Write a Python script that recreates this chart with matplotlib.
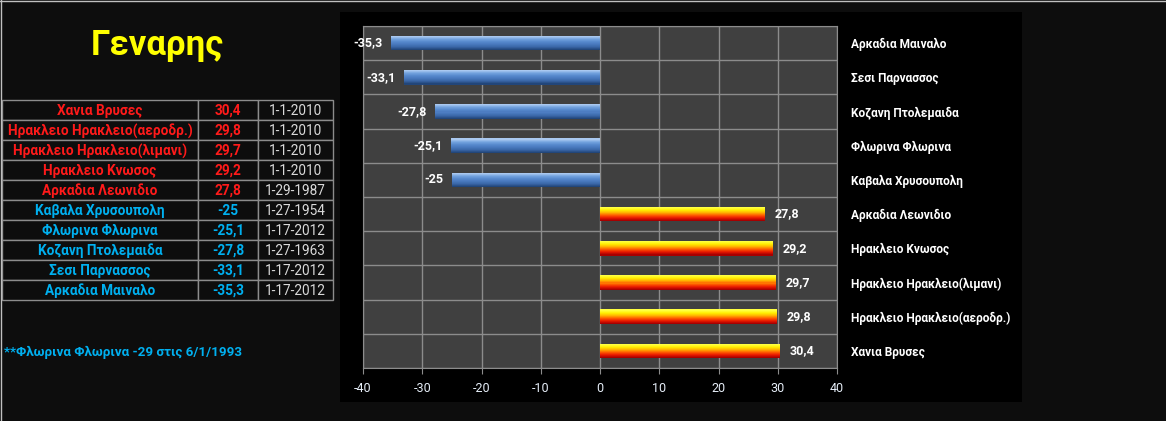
import matplotlib.pyplot as plt
import numpy as np
from matplotlib.colors import LinearSegmentedColormap
from matplotlib.patches import Rectangle
from matplotlib.lines import Line2D

plt.rcParams['font.family'] = ['Roboto', 'DejaVu Sans']

# data, bottom bar first (same order as the table rows, top to bottom)
stations = ["Χανια Βρυσες", "Ηρακλειο Ηρακλειο(αεροδρ.)", "Ηρακλειο Ηρακλειο(λιμανι)",
            "Ηρακλειο Κνωσος", "Αρκαδια Λεωνιδιο", "Καβαλα Χρυσουπολη",
            "Φλωρινα Φλωρινα", "Κοζανη Πτολεμαιδα", "Σεσι Παρνασσος", "Αρκαδια Μαιναλο"]
temps = [30.4, 29.8, 29.7, 29.2, 27.8, -25, -25.1, -27.8, -33.1, -35.3]
dates = ["1-1-2010", "1-1-2010", "1-1-2010", "1-1-2010", "1-29-1987",
         "1-27-1954", "1-17-2012", "1-27-1963", "1-17-2012", "1-17-2012"]
x_ticks = [-40, -30, -20, -10, 0, 10, 20, 30, 40]
title = "Γεναρης"
footnote = "**Φλωρινα Φλωρινα -29 στις 6/1/1993"

RED = "#ff1a1a"
BLUE = "#00b0f0"
W, H = 1166, 421


def fmt(v):
    return f"{v:g}".replace('.', ',')


fig = plt.figure(figsize=(W / 100, H / 100), dpi=100, facecolor="#0d0d0d")

# thin light edge at top and left of the sheet
fig.lines.append(Line2D([0, 1], [1 - 0.5 / H, 1 - 0.5 / H], transform=fig.transFigure,
                        color="#bfbfbf", linewidth=1))
fig.lines.append(Line2D([0.5 / W, 0.5 / W], [0, 1], transform=fig.transFigure,
                        color="#bfbfbf", linewidth=1))

# black panel behind the chart
fig.patches.append(Rectangle((340 / W, 1 - 402 / H), 682 / W, 390 / H,
                             transform=fig.transFigure, facecolor="black",
                             edgecolor="none", zorder=-1))

ax = fig.add_axes([363 / W, 1 - 368 / H, 474 / W, 342 / H])
ax.set_facecolor("#404040")

pos = np.arange(len(temps))
vals = np.array(temps)
neg = vals < 0

# gradient bars built from thin horizontal strips
bar_h = 0.42
n_strips = 14
warm = LinearSegmentedColormap.from_list(
    "warm", ["#ffff40", "#ffee00", "#ffb000", "#ff5a00", "#e81800", "#a80000"])
cool = LinearSegmentedColormap.from_list(
    "cool", ["#a9c8f0", "#72a2de", "#5789cd", "#4878bd", "#3a66a6", "#22467a"])
for k in range(n_strips):
    off = bar_h / 2 - (k + 0.5) * bar_h / n_strips
    t = k / (n_strips - 1)
    ax.barh(pos[~neg] + off, vals[~neg], height=bar_h / n_strips * 1.05,
            color=warm(t), edgecolor="none", linewidth=0, zorder=3)
    ax.barh(pos[neg] + off, vals[neg], height=bar_h / n_strips * 1.05,
            color=cool(t), edgecolor="none", linewidth=0, zorder=3)

for p, v in zip(pos, vals):
    ax.annotate(fmt(v), (v, p), xytext=(-6 if v < 0 else 7, 0),
                textcoords="offset points", ha="right" if v < 0 else "left",
                va="center", color="white", fontsize=9, fontweight="bold")

ax.set_xlim(-40, 40)
ax.set_ylim(-0.5, len(temps) - 0.5)
ax.set_xticks(x_ticks)
ax.set_xticklabels([str(t) for t in x_ticks], color="#e6eef8", fontsize=9)
ax.tick_params(axis="x", length=4, color="#8c8c8c", pad=6)

ax.yaxis.tick_right()
ax.set_yticks(pos)
ax.set_yticklabels(stations, color="white", fontsize=8.6, fontweight="bold")
ax.tick_params(axis="y", length=0, pad=10)
ax.set_yticks(np.arange(-0.5, len(temps), 1), minor=True)
ax.tick_params(axis="y", which="minor", length=0)

ax.grid(True, axis="x", which="major", color="#8c8c8c", linewidth=1, zorder=1)
ax.grid(True, axis="y", which="minor", color="#8c8c8c", linewidth=1, zorder=1)
ax.set_axisbelow(True)
for s in ax.spines.values():
    s.set_color("#8c8c8c")

# title and table on the left
fig.text(157 / W, 1 - 46 / H, title, color="#ffff00", fontsize=25,
         fontweight="bold", ha="center", va="center")

col_edges = [2, 198, 258, 333]
row_top = 100
row_h = 20
for i, (name, v, d) in enumerate(zip(stations, temps, dates)):
    y0 = row_top + i * row_h
    for c in range(3):
        fig.patches.append(Rectangle((col_edges[c] / W, 1 - (y0 + row_h) / H),
                                     (col_edges[c + 1] - col_edges[c]) / W, row_h / H,
                                     transform=fig.transFigure, facecolor="#0d0d0d",
                                     edgecolor="#8c8c8c", linewidth=1, zorder=1))
    col = BLUE if v < 0 else RED
    yc = 1 - (y0 + row_h / 2 + 1) / H
    fig.text((col_edges[0] + col_edges[1]) / 2 / W, yc, name, color=col,
             fontsize=9.8, fontweight="bold", ha="center", va="center")
    fig.text((col_edges[1] + col_edges[2]) / 2 / W, yc, fmt(v), color=col,
             fontsize=9.8, fontweight="bold", ha="center", va="center")
    fig.text((col_edges[2] + col_edges[3]) / 2 / W, yc, d, color="#d9d9d9",
             fontsize=9.8, ha="center", va="center")

fig.text(4 / W, 1 - 352 / H, footnote, color=BLUE, fontsize=9.6,
         fontweight="bold", ha="left", va="center")

fig.savefig("out.png", dpi=100, facecolor=fig.get_facecolor())
